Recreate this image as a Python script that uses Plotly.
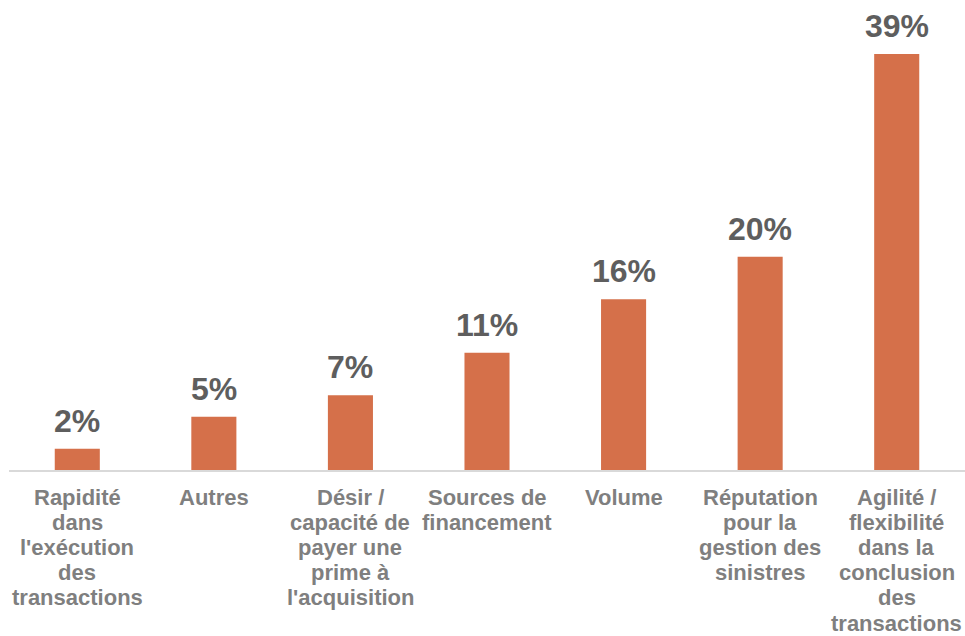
import plotly.graph_objects as go

# Category labels, one list of lines per bar
category_lines = [
    ["Rapidité", "dans", "l'exécution", "des", "transactions"],
    ["Autres"],
    ["Désir /", "capacité de", "payer une", "prime à", "l'acquisition"],
    ["Sources de", "financement"],
    ["Volume"],
    ["Réputation", "pour la", "gestion des", "sinistres"],
    ["Agilité /", "flexibilité", "dans la", "conclusion", "des", "transactions"],
]
categories = [" ".join(lines) for lines in category_lines]
values = [2, 5, 7, 11, 16, 20, 39]
value_labels = [f"{v}%" for v in values]

BAR_COLOR = "#D5704A"
VALUE_COLOR = "#5E5E5E"
CAT_COLOR = "#7F7F7F"
FONT = "Liberation Sans, Arial, sans-serif"

fig = go.Figure(
    go.Bar(
        x=categories,
        y=values,
        marker=dict(color=BAR_COLOR, line=dict(width=0)),
        hoverinfo="skip",
    )
)

annotations = []
# Value labels above each bar
for cat, v, lab in zip(categories, values, value_labels):
    annotations.append(dict(
        x=cat, y=v, xref="x", yref="y",
        text=f"<b>{lab}</b>", showarrow=False,
        yanchor="bottom", yshift=8,
        font=dict(family=FONT, size=32, color=VALUE_COLOR),
    ))
# Multi-line category labels below the axis
LINE_H = 25.2
for cat, lines in zip(categories, category_lines):
    for i, line in enumerate(lines):
        annotations.append(dict(
            x=cat, y=0, xref="x", yref="y",
            text=f"<b>{line}</b>", showarrow=False,
            yanchor="middle", yshift=-(27 + LINE_H * i),
            borderpad=0,
            font=dict(family=FONT, size=22, color=CAT_COLOR),
        ))

fig.update_layout(
    width=965, height=636,
    margin=dict(l=9, r=0, t=22, b=166),
    paper_bgcolor="white", plot_bgcolor="white",
    bargap=0.67,
    showlegend=False,
    annotations=annotations,
    font=dict(family=FONT),
)
fig.update_xaxes(
    showticklabels=False, ticks="", showgrid=False, zeroline=False,
    showline=True, linecolor="#D9D9D9", linewidth=2,
)
fig.update_yaxes(
    range=[0, 42], visible=False, showgrid=False, zeroline=False,
)

fig.write_html("out.html")
